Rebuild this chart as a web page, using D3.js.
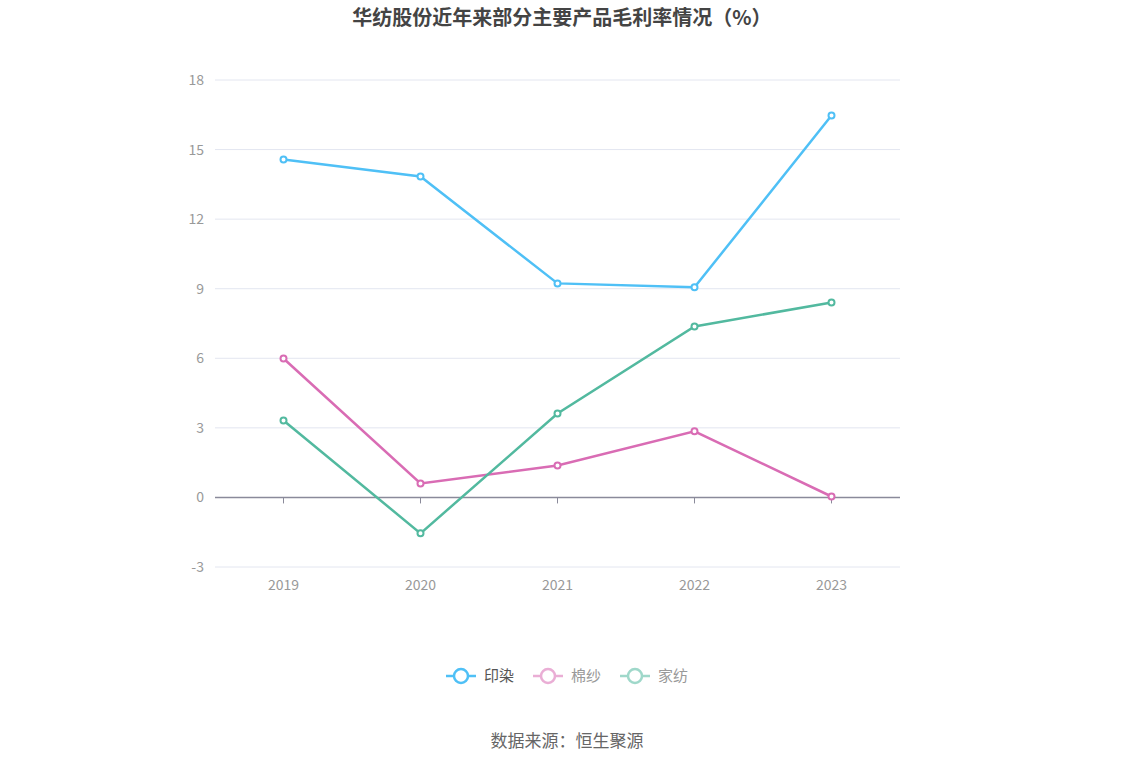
<!DOCTYPE html>
<html><head><meta charset="utf-8">
<script src="https://cdn.jsdelivr.net/npm/d3@7"></script>
<style>body{margin:0;background:#fff;font-family:"Noto Sans CJK SC","Noto Sans",sans-serif}</style>
</head><body><svg id="c" width="1134" height="766"></svg>
<script>
const categories=["2019","2020","2021","2022","2023"];
const yinran=[14.57,13.84,9.23,9.06,16.47];
const mianSha=[5.99,0.60,1.38,2.85,0.04];
const jiafang=[3.32,-1.55,3.62,7.37,8.41];
const yTicks=[-3,0,3,6,9,12,15,18];
const seriesNames=["印染","棉纱","家纺"];
const colors=["#4fc0f6","#d96cb4","#52b99f"];
const series=[yinran,mianSha,jiafang];

const svg=d3.select("#c");
const x=d3.scaleBand().domain(categories).range([215,900]);
const y=d3.scaleLinear().domain([-3,18]).range([567,80]);
svg.append("text").attr("x",562).attr("y",25).attr("text-anchor","middle")
 .attr("font-size",20).attr("font-weight","bold").attr("fill","#444").text("华纺股份近年来部分主要产品毛利率情况（%）");
yTicks.forEach(t=>{
 svg.append("line").attr("x1",215).attr("x2",900).attr("y1",y(t)).attr("y2",y(t))
  .attr("stroke",t===0?"#8a8a9a":"#e3e6f0").attr("stroke-width",t===0?1.5:1);
 svg.append("text").attr("x",204).attr("y",y(t)+5).attr("text-anchor","end")
  .attr("font-size",14).attr("fill","#999").text(t);
});
categories.forEach(c=>{
 const cx=x(c)+x.bandwidth()/2;
 svg.append("line").attr("x1",cx).attr("x2",cx).attr("y1",y(0)).attr("y2",y(0)+6).attr("stroke","#8a8a9a");
 svg.append("text").attr("x",cx).attr("y",590).attr("text-anchor","middle")
  .attr("font-size",14).attr("fill","#999").text(c);
});
const line=d3.line().x((d,i)=>x(categories[i])+x.bandwidth()/2).y(d=>y(d));
series.forEach((s,k)=>{
 svg.append("path").attr("d",line(s)).attr("fill","none").attr("stroke",colors[k]).attr("stroke-width",2.5);
 s.forEach((v,i)=>svg.append("circle").attr("cx",x(categories[i])+x.bandwidth()/2).attr("cy",y(v))
  .attr("r",3).attr("fill","#fff").attr("stroke",colors[k]).attr("stroke-width",2));
});
const lx=[446,533,620];
seriesNames.forEach((n,k)=>{
 const g=svg.append("g").attr("opacity",k===0?1:0.55);
 g.append("line").attr("x1",lx[k]).attr("x2",lx[k]+30).attr("y1",676).attr("y2",676).attr("stroke",colors[k]).attr("stroke-width",2.5);
 g.append("circle").attr("cx",lx[k]+15).attr("cy",676).attr("r",7).attr("fill","#fff").attr("stroke",colors[k]).attr("stroke-width",2.5);
 svg.append("text").attr("x",lx[k]+38).attr("y",681).attr("font-size",15).attr("fill",k===0?"#555":"#999").text(n);
});
svg.append("text").attr("x",567).attr("y",747).attr("text-anchor","middle").attr("font-size",17).attr("fill","#666").text("数据来源：恒生聚源");
</script></body></html>
